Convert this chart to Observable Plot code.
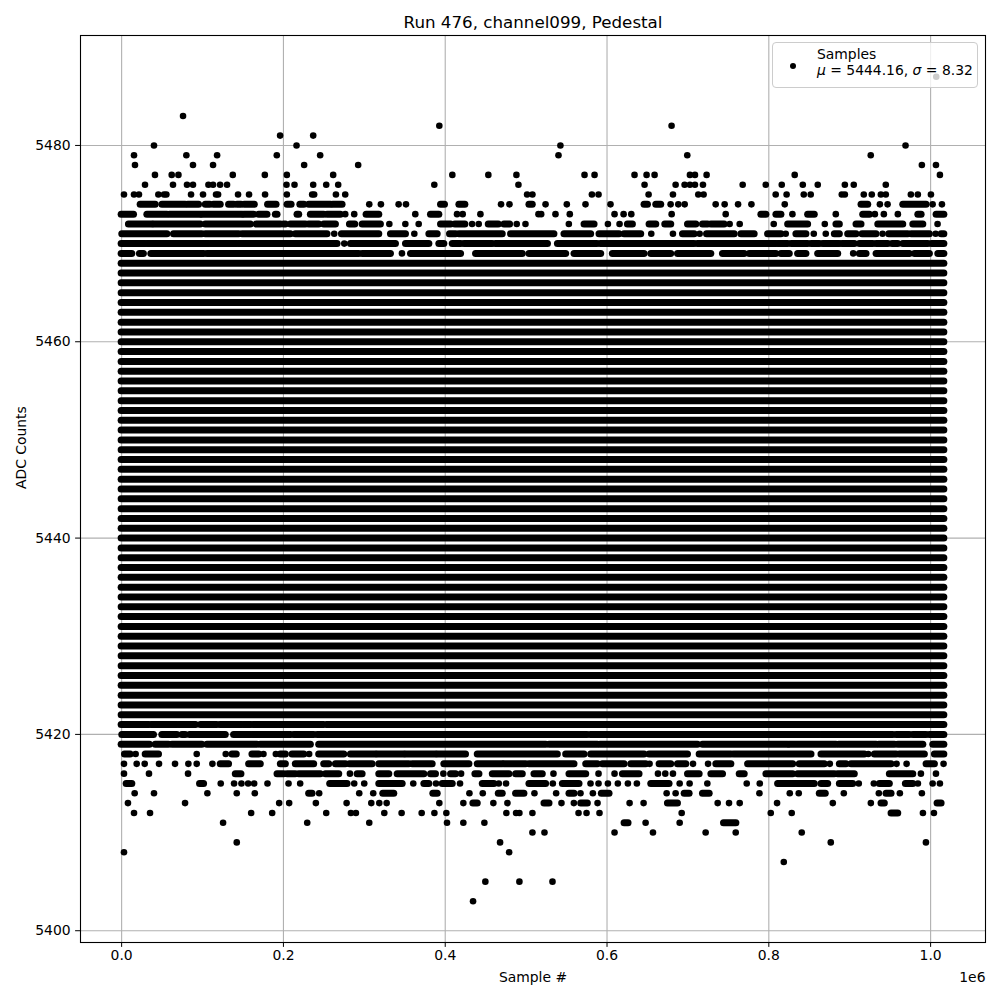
<!DOCTYPE html>
<html><head><meta charset="utf-8">
<script src="https://cdn.jsdelivr.net/npm/d3@7"></script>
<script src="https://cdn.jsdelivr.net/npm/@observablehq/plot@0.6"></script>
<style>
body{margin:0;background:#fff;}
#wrap{position:relative;width:1000px;height:1000px;font-family:"DejaVu Sans",sans-serif;}
#legend{position:absolute;left:772px;top:42px;width:206px;height:46px;background:rgba(255,255,255,0.8);border:1px solid #cccccc;border-radius:4px;box-sizing:border-box;font-size:13.9px;color:#000;}
#legend .dot{position:absolute;left:17px;top:19.5px;width:6px;height:6px;border-radius:50%;background:#000;}
#legend .txt{position:absolute;left:44px;top:3px;line-height:16px;white-space:nowrap;}
</style></head><body><div id="wrap"></div>
<script>
// ---- chart text ----
const title = "Run 476, channel099, Pedestal";
const xLabel = "Sample #";
const yLabel = "ADC Counts";
const xOffsetText = "1e6";
const legendName = "Samples";
const legendMu = "5444.16";
const legendSigma = "8.32";

// ---- axes ----
const xTicks = [0.0, 0.2, 0.4, 0.6, 0.8, 1.0];     // x 1e6
const yTicks = [5400, 5420, 5440, 5460, 5480];
const lastSampleK = 1017;                          // samples, in thousands

// ---- ADC levels filled across the whole run ----
const solidLevels = [5422,5423,5424,5425,5426,5427,5428,5429,5430,5431,5432,5433,5434,5435,5436,5437,
  5438,5439,5440,5441,5442,5443,5444,5445,5446,5447,5448,5449,5450,5451,5452,5453,5454,5455,5456,
  5457,5458,5459,5460,5461,5462,5463,5464,5465,5466,5467,5468];

// ---- upper tail: contiguous runs of samples [level, fromK, toK] ----
const upperRuns = [
 [5474,23.5,42.1],[5474,50.4,79.2],[5474,82.3,95.7],[5474,104,109.5],[5474,114.1,122.5],[5474,132.8,139],[5474,143.2,148.2],[5474,152.2,164.6],[5474,181,191.5],[5474,205.1,210.1],[5474,220.9,225.9],[5474,231.8,258.7],[5474,261.5,273.1],[5474,394.8,399.7],[5474,417.5,424.9],[5474,504.1,508.2],[5474,646.4,650.6],[5474,660.9,667],[5474,914.6,922.9],[5474,966.2,995],
 [5473,0,15.3],[5473,31.8,56.6],[5473,59.8,97.8],[5473,99.8,149.4],[5473,151.4,163.7],[5473,169.9,180.3],[5473,190.6,192.7],[5473,217.4,219.5],[5473,233.9,250.4],[5473,254.5,271],[5473,302.8,318.5],[5473,382.4,392.7],[5473,790.8,797],[5473,809.4,815.6],[5473,848.6,856.8],[5473,916.7,924.9],[5473,984.8,988.9],[5473,1007.4,1017],
 [5472,9,38],[5472,40,97.8],[5472,104,159.7],[5472,167,196.8],[5472,200.8,203],[5472,209.2,227.7],[5472,231.8,244.2],[5472,250.4,264.9],[5472,282.2,288.8],[5472,297.9,320.5],[5472,394.8,407.2],[5472,412.5,424.9],[5472,453.8,466.2],[5472,473.2,480.2],[5472,572.2,584.6],[5472,625.8,632],[5472,652.6,660.9],[5472,672,679.4],[5472,700.1,710.4],[5472,718.6,724.9],[5472,729,745.4],[5472,823.9,848.6],[5472,883.6,887.8],[5472,908.4,914.6],[5472,935.3,966.2],[5472,978.6,991],
 [5471,0.8,56.6],[5471,64.7,99.8],[5471,104,145.2],[5471,149.4,209.2],[5471,215.3,254.5],[5471,272.3,318.5],[5471,332.9,351.5],[5471,380.4,390.7],[5471,405.9,413.4],[5471,417.5,471.1],[5471,481.4,535],[5471,547.4,580.4],[5471,590.7,615.5],[5471,621.6,642.3],[5471,693.9,708.3],[5471,723.6,757.8],[5471,766.1,782.5],[5471,799.1,815.6],[5471,834.1,846.5],[5471,881.6,887.8],[5471,898.1,908.4],[5471,915.8,933.1],[5471,948.8,972.4],[5471,976.5,999.1],[5471,1013.6,1017],
 [5470,0,29.7],[5470,31.8,108],[5470,110.1,143.2],[5470,145.2,266.9],[5470,283.4,339.1],[5470,351.5,380.4],[5470,392.7,398.9],[5470,409.3,419.6],[5470,423.7,458.8],[5470,462.9,527],[5470,539.3,588.2],[5470,592.3,708.3],[5470,712.4,809.4],[5470,811.5,823.9],[5470,828.1,848.6],[5470,852.8,863.1],[5470,867.2,887.8],[5470,891.1,906.4],[5470,912.5,929.1],[5470,933.2,947.7],[5470,953,960],[5470,966.2,997.2],[5470,1001.7,1017],
 [5469,0,13.2],[5469,22.6,27.5],[5469,36.7,101.9],[5469,106,293.7],[5469,297.9,332.9],[5469,357.7,419.6],[5469,438.1,495.9],[5469,504.1,549.5],[5469,559.8,592.8],[5469,607.2,646.4],[5469,654.7,679.4],[5469,687.7,728.9],[5469,743.3,770.2],[5469,776.3,809.4],[5469,815.6,825.9],[5469,836.2,846.5],[5469,861,885.8],[5469,912.5,920.8],[5469,933.2,974.4],[5469,980.6,999.1],[5469,1009.5,1017]
];

// ---- upper tail: isolated samples [level, [sampleK...]] ----
const upperPoints = [
 [5487,[1007]],
 [5483,[75.9]],
 [5482,[392.7,679.8]],
 [5481,[195.9,236.8]],
 [5480,[40,216.2,542.4,969]],
 [5479,[15.3,80,118,191.8,245.4,540,699.2,926]],
 [5478,[16.5,88.2,113,225.6,292.4,989.2,1006.6]],
 [5477,[41.2,61.9,70.2,137.4,177,204.2,261.5,408.8,453.3,488,572.2,584.6,634,648.9,658.8,702.5,708.7,723.1,832,1011.5]],
 [5476,[28.9,63.5,80.8,88.2,107.3,113,121.7,130.3,203.8,213.7,236.8,252.9,267.7,386.5,490.5,646.4,684.8,695.9,702.5,708.7,718.6,767.7,796.2,816,842,860.5,894,905,944.6]],
 [5475,[2.9,15.3,21.4,45.4,52.4,55.3,85.8,100.6,116.7,119.2,143.9,157.5,177.3,204.2,235.5,238,264.9,276.4,501.2,507.8,581.3,589.5,651.4,681.5,712.8,719.4,808.5,822,843.2,851.8,890.2,894,917.4,927.3,938.5,944.6,975.6,984.2,1000.4]],
 [5474,[306.1,320.5,342.4,351.5,469,479.4,524,550.3,573.4,604.3,678.6,688.1,696,734.3,745.4,762,778.5,819.7,937.3,946.8,1002.5,1014]],
 [5473,[276.4,287.5,363,414.6,421.6,443.5,515.3,518.6,536.3,554,609.3,620.5,630,679.9,746.7,829.2,882.8,931.1,942.2,959.5]],
 [5472,[330.9,350.7,367.2,433.2,441.4,488.4,499.2,552.8,601.1,615.5,751.6,764,806.1,869.2,1008.6]],
 [5471,[262.8,361.8,654.7,681.5,714.5,820.9,855.6,870.4,940.6,1006.2]],
 [5470,[275.2]],
 [5469,[346.5,904.3]]
];

// ---- lower tail: contiguous runs [level, fromK, toK] ----
const lowerRuns = [
 [5421,0,34],[5421,37,69],[5421,71,92],[5421,98,118],[5421,122,149],[5421,151,160],[5421,163,193],[5421,195,250],[5421,254,1017],
 [5420,0.8,40],[5420,50.3,68.9],[5420,75.1,79.2],[5420,84.6,128.7],[5420,139,159.7],[5420,161.7,209.2],[5420,213.3,238],[5420,242.2,576],[5420,580,863],[5420,865.1,953.8],[5420,957.9,974.4],[5420,978.6,995],[5420,999.1,1017],
 [5419,0,35],[5419,42.1,58.5],[5419,62.7,99.8],[5419,106,167.9],[5419,172,233.9],[5419,244.2,524.8],[5419,528.9,588.7],[5419,592,712.4],[5419,718.6,823.9],[5419,825.9,883.6],[5419,887,933.2],[5419,936.5,955.8],[5419,960,991],[5419,1003.3,1017],
 [5418,4.1,11.1],[5418,29.7,46.2],[5418,137,142.3],[5418,161.7,170],[5418,196.8,203],[5418,211.2,225.7],[5418,244.2,275.2],[5418,283.4,314.4],[5418,316.4,349.4],[5418,351.5,388.6],[5418,390.7,425.7],[5418,440.2,539.2],[5418,549.5,572.2],[5418,580.4,646.4],[5418,652.6,700.1],[5418,714.5,753.7],[5418,757,852.8],[5418,865.1,918.7],[5418,931.1,957.9],[5418,962,992.9],[5418,1005.3,1017],
 [5417,122.5,132.8],[5417,157.6,172],[5417,196.8,203],[5417,215.3,238],[5417,250.4,256.6],[5417,264.9,277.2],[5417,282.2,310.2],[5417,318.5,355.6],[5417,359.7,384.5],[5417,398.9,429.9],[5417,440.2,471.1],[5417,473.2,500],[5417,504.1,559.8],[5417,574.3,588.7],[5417,594.9,621.7],[5417,630,648.5],[5417,665,679.4],[5417,687.7,698],[5417,735.1,753.7],[5417,774.4,830.1],[5417,838.2,869.2],[5417,887.8,896],[5417,902.2,951.7],[5417,995,1005.3],
 [5416,141.1,148.1],[5416,192.7,200.9],[5416,205.1,215.3],[5416,219.5,246.3],[5416,252.5,269],[5416,291.7,297.9],[5416,318.5,330.9],[5416,341.2,374.2],[5416,382.4,388.6],[5416,407.2,413.4],[5416,437.3,442.3],[5416,458.8,479.4],[5416,487.6,495.9],[5416,510.3,520.6],[5416,553.6,574.3],[5416,619.6,640.2],[5416,700.1,714.5],[5416,729,743.4],[5416,764,770.2],[5416,797,830.1],[5416,836.2,881.6],[5416,885.7,906.3],[5416,949.6,978.6],
 [5415,6.2,13.2],[5415,96.9,101.9],[5415,257.8,279.3],[5415,318.5,347.4],[5415,374.2,380.4],[5415,396.9,409.3],[5415,446.4,460.8],[5415,504.1,524.7],[5415,545.4,566],[5415,654.7,677.3],[5415,811.5,856.8],[5415,865.1,873.4],[5415,887.8,904.3],[5415,937.3,949.6],[5415,969.4,978.6],
 [5414,231.8,236],[5414,323.4,337],[5414,385.3,390.7],[5414,466.2,471.1],[5414,487.6,497.9],[5414,553.6,559.8],[5414,593.6,603.1],[5414,696,702.1],[5414,718.6,726.9],[5414,863,870.4],[5414,945.5,951.7],
 [5413,434.8,440.2],[5413,522.7,528.9],[5413,568.1,576.3],[5413,675.3,687.7],[5413,939.3,943.4],[5413,1008.6,1013.6],
 [5412,951.7,960],
 [5411,621.7,626.6],[5411,744.6,759.9]
];

// ---- lower tail: isolated samples [level, [sampleK...]] ----
const lowerPoints = [
 [5418,[17.3,92.8,128.7,175.3,190.6,231.8,922.9]],
 [5417,[2.9,18.6,28.5,46.2,66,82.5,92.8,112.2,652.6,706.3,724.9,875.4,957.9,970.3,1016]],
 [5416,[2.9,33.8,82.1,282.2,397.7,419.6,533.8,589.5,609.3,663,672,681.5,988,1006.6]],
 [5415,[122.5,139,148.1,156.4,163.8,180.3,206.3,220.7,287.5,299.9,360.5,388.6,418.3,466.2,475.2,533,579.6,589.5,601.1,613.4,625.8,636.9,689.8,702.1,724,772.7,788.8,911.2,929.8,984.3,1002.5,1011.5]],
 [5414,[16.1,40,106,142.3,164.6,244.2,293.7,311,429.9,446.4,510.3,537.1,567.2,582.5,673.7,684.8,788.4,825.9,837,892.7,936,962,989.2]],
 [5413,[7.8,78.4,194.7,207.1,240.1,278.1,308.6,318.5,327.6,392.7,422.4,459.5,476.9,543.7,559,588.3,627.9,645.2,736.8,750.8,764,810.2,879.1,926.1]],
 [5412,[15.3,35.1,160.1,186.1,252.9,283.4,289.6,324.7,346.1,370.9,386.6,401.4,475.6,487.6,491.7,507.8,564.8,574.7,590.7,692.3,802.4,828.3,990.5,1004.1]],
 [5411,[125.4,229.4,306.1,402.2,422.4,448.4,647.7,689.8]],
 [5410,[507.8,522.7,609.3,656.8,721.9,759.1,840.7]],
 [5409,[142.3,467.8,876.6,994.2]],
 [5408,[2.9,479]],
 [5407,[818.5]],
 [5405,[449.6,491.7,532.6]],
 [5403,[434.4]]
];

// ---- build tables ----
const runs = [
  ...solidLevels.map(l => ({level: l, from: 0, to: lastSampleK})),
  ...upperRuns.map(([l, a, b]) => ({level: l, from: a, to: b})),
  ...lowerRuns.map(([l, a, b]) => ({level: l, from: a, to: b}))
];
const points = [...upperPoints, ...lowerPoints].flatMap(([l, ks]) => ks.map(k => ({level: l, k})));

const yMin = 5403, yMax = 5487;
const yPad = (yMax - yMin) * 0.05;
const xPad = lastSampleK * 1000 * 0.05;

const gridStyle = {stroke: "#b0b0b0", strokeOpacity: 1, strokeWidth: 1.1};

const chart = Plot.plot({
  width: 1000, height: 1000,
  marginTop: 35, marginRight: 15, marginBottom: 58, marginLeft: 80,
  style: {fontFamily: "'DejaVu Sans', sans-serif", fontSize: "13.9px", background: "white", color: "black"},
  x: {domain: [-xPad, lastSampleK * 1000 + xPad]},
  y: {domain: [yMin - yPad, yMax + yPad]},
  marks: [
    Plot.gridX(xTicks.map(d => d * 1e6), gridStyle),
    Plot.gridY(yTicks, gridStyle),
    Plot.ruleY(runs, {y: "level", x1: d => d.from * 1000, x2: d => d.to * 1000,
      stroke: "black", strokeWidth: 7, strokeLinecap: "round"}),
    Plot.dot(points, {x: d => d.k * 1000, y: "level", r: 3.3, fill: "black", stroke: null}),
    Plot.frame({stroke: "black", strokeWidth: 1.1}),
    Plot.axisX(xTicks.map(d => d * 1e6), {tickFormat: d => (d / 1e6).toFixed(1), tickSize: 4.9, tickPadding: 3, label: null}),
    Plot.axisY(yTicks, {tickFormat: d => String(d), tickSize: 4.9, tickPadding: 5, label: null}),
    Plot.text([title], {text: d => d, frameAnchor: "top", lineAnchor: "middle", dy: -13, fontSize: 16.7}),
    Plot.text([xLabel], {text: d => d, frameAnchor: "bottom", lineAnchor: "middle", dy: 35}),
    Plot.text([xOffsetText], {text: d => d, frameAnchor: "bottom-right", lineAnchor: "middle", dy: 35, textAnchor: "end"}),
    Plot.text([yLabel], {text: d => d, frameAnchor: "left", lineAnchor: "middle", dx: -59, rotate: -90})
  ]
});

const wrap = document.getElementById("wrap");
wrap.appendChild(chart);
const legend = document.createElement("div");
legend.id = "legend";
legend.innerHTML = `<div class="dot"></div><div class="txt">${legendName}<br><i>μ</i> = ${legendMu}, <i>σ</i> = ${legendSigma}</div>`;
wrap.appendChild(legend);
</script>
</body></html>
